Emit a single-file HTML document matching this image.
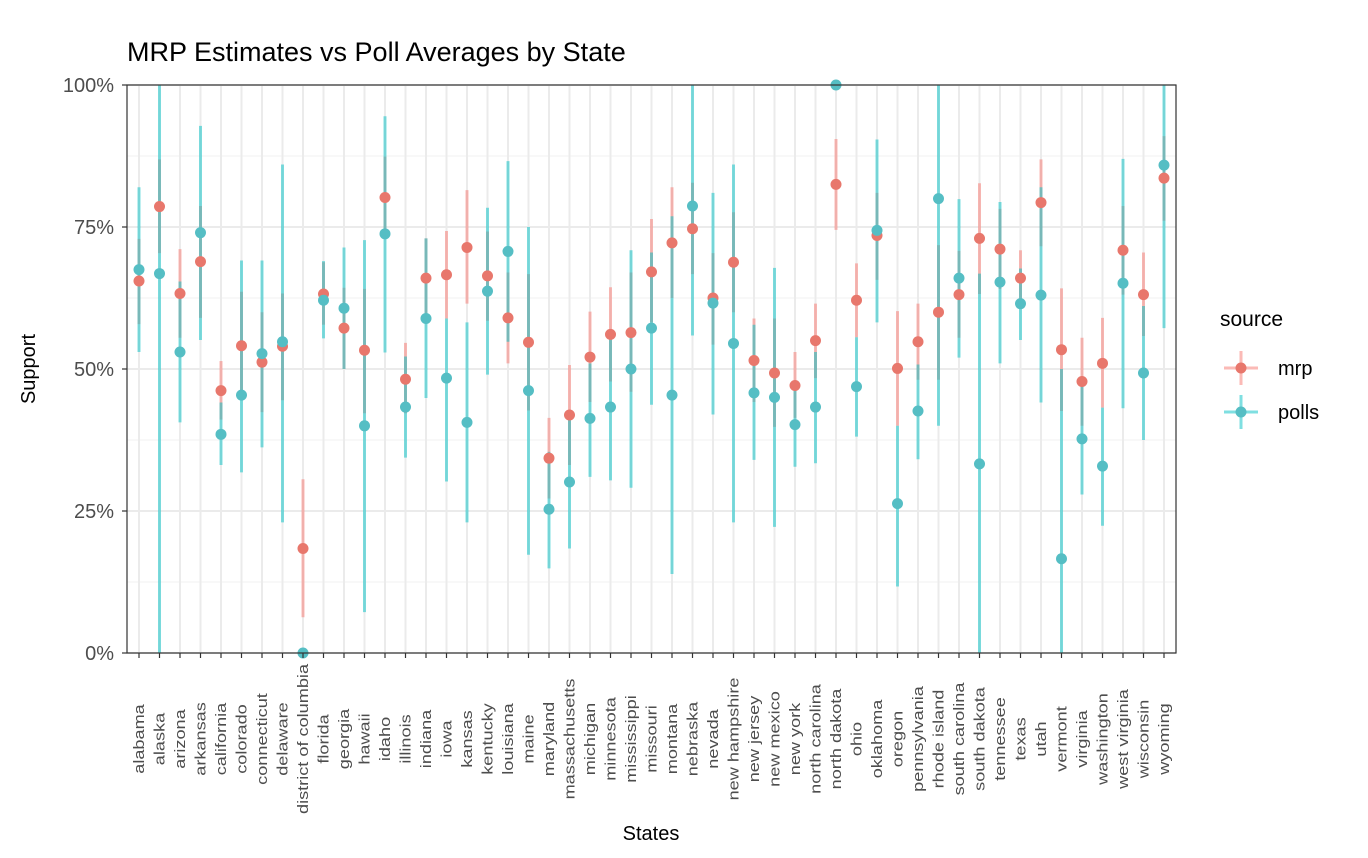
<!DOCTYPE html>
<html><head><meta charset="utf-8"><style>
html,body{margin:0;padding:0;background:#fff;}
svg{display:block;font-family:"Liberation Sans",Arial,sans-serif;}
</style></head><body>
<svg id="chart" width="1368" height="858"></svg>
<script>
const states=["alabama","alaska","arizona","arkansas","california","colorado","connecticut","delaware","district of columbia","florida","georgia","hawaii","idaho","illinois","indiana","iowa","kansas","kentucky","louisiana","maine","maryland","massachusetts","michigan","minnesota","mississippi","missouri","montana","nebraska","nevada","new hampshire","new jersey","new mexico","new york","north carolina","north dakota","ohio","oklahoma","oregon","pennsylvania","rhode island","south carolina","south dakota","tennessee","texas","utah","vermont","virginia","washington","west virginia","wisconsin","wyoming"];
const mrpEst=[65.5,78.6,63.3,68.9,46.2,54.1,51.2,54,18.4,63.2,57.2,53.3,80.2,48.2,66,66.6,71.4,66.4,59,54.7,34.3,41.9,52.1,56.1,56.4,67.1,72.2,74.7,62.5,68.8,51.5,49.3,47.1,55,82.5,62.1,73.5,50.1,54.8,60,63.1,73,71.1,66,79.3,53.4,47.8,51,70.9,63.1,83.6];
const mrpHi=[72.9,86.9,71.1,78.7,51.4,63.6,60,63.3,30.6,68.8,64.3,64.1,87.4,54.6,73,74.3,81.5,74.2,67,66.7,41.4,50.7,60.1,64.4,67,76.4,82,82.8,70.4,77.6,58.9,58.9,53,61.5,90.5,68.6,81,60.2,61.5,71.8,70.8,82.7,78.2,70.9,86.9,64.2,55.5,59,78.7,70.5,91];
const mrpLo=[57.9,70.4,55.5,59,41.1,45,42.4,44.5,6.3,57.8,50,42.2,72.9,42.2,58.9,58.9,61.5,58.5,51,42.7,27.2,33.1,44.2,47.8,46,58.2,62.5,66.7,54.3,60,44.2,39.8,41.4,48.4,74.5,55.6,65.7,40,48.1,48.1,55.5,63.2,64.1,61.5,71.6,42.6,40,43.2,63.1,55.8,76.1];
const pollEst=[67.5,66.8,53,74,38.5,45.4,52.7,54.8,0,62.1,60.7,40,73.8,43.3,58.9,48.4,40.6,63.7,70.7,46.2,25.3,30.1,41.3,43.3,50,57.2,45.4,78.7,61.6,54.5,45.8,45,40.2,43.3,100,46.9,74.4,26.3,42.6,80,66,33.3,65.3,61.5,63,16.6,37.7,32.9,65.1,49.3,85.9];
const pollHi=[82,100,65.4,92.8,44.1,69.1,69.1,86,0,69,71.4,72.7,94.5,52.2,73,58.9,58.2,78.4,86.6,75,35.4,41.9,51,56,70.9,70.5,76.9,100,81,86,57.8,67.8,47.1,53,100,55.6,90.4,40,50.8,100,79.9,66.8,79.4,67.7,82,50,47.1,43.2,87,61.1,100];
const pollLo=[53,0,40.6,55.1,33.1,31.8,36.2,23,0,55.4,50,7.2,52.9,34.4,44.9,30.2,23,49,54.8,17.3,14.9,18.4,31,30.4,29.1,43.7,13.9,55.9,42,23,34,22.2,32.8,33.4,100,38.1,58.2,11.7,34.1,40,52,0,51,55.1,44.1,0,27.9,22.4,43.1,37.5,57.2];
const yTicks=[0,25,50,75,100];

const NS="http://www.w3.org/2000/svg";
const svg=document.getElementById('chart');
const L=127,R=1176,T=85,B=653;
const x0=139,dx=(1164-139)/50;
function xs(i){return x0+i*dx;}
function ys(v){return B-(v/100)*(B-T);}
function mk(tag,attrs,parent){const e=document.createElementNS(NS,tag);for(const k in attrs)e.setAttribute(k,attrs[k]);(parent||svg).appendChild(e);return e;}

const grid=mk('g',{});


[12.5,37.5,62.5,87.5].forEach(v=>{mk('line',{x1:L,x2:R,y1:ys(v),y2:ys(v),stroke:'#f2f2f2','stroke-width':1},grid);});
yTicks.forEach(v=>{mk('line',{x1:L,x2:R,y1:ys(v),y2:ys(v),stroke:'#ebebeb','stroke-width':2},grid);});
states.forEach((s,i)=>{mk('line',{x1:xs(i),x2:xs(i),y1:T,y2:B,stroke:'#ebebeb','stroke-width':2},grid);});

const mrpCol='#F8766D',polCol='#00BFC4';
const series=mk('g',{});


states.forEach((s,i)=>{
  const x=xs(i);
  const a=mk('line',{x1:x,x2:x,y1:ys(mrpHi[i]),y2:ys(mrpLo[i]),stroke:mrpCol,'stroke-width':3,'stroke-opacity':0.5},series);
  
  
  const b=mk('line',{x1:x,x2:x,y1:ys(pollHi[i]),y2:ys(pollLo[i]),stroke:polCol,'stroke-width':3,'stroke-opacity':0.5},series);
  
  
});
states.forEach((s,i)=>{
  const x=xs(i);
  const c=mk('circle',{cx:x,cy:ys(mrpEst[i]),r:5.5,fill:'#E8776C'},series);
  
  
  const d=mk('circle',{cx:x,cy:ys(pollEst[i]),r:5.5,fill:'#55BEC4'},series);
  
  
});

const border=mk('rect',{x:L,y:T,width:R-L,height:B-T,fill:'none',stroke:'#333','stroke-width':1.2});



yTicks.forEach(v=>{
  mk('line',{x1:L-5,x2:L,y1:ys(v),y2:ys(v),stroke:'#333','stroke-width':1.2});
  const t=mk('text',{x:L-13,y:ys(v)+7,'text-anchor':'end','font-size':20,fill:'#4d4d4d'});
  t.textContent=v+'%';
  
  
});
states.forEach((s,i)=>{
  const x=xs(i);
  mk('line',{x1:x,x2:x,y1:B,y2:B+5,stroke:'#333','stroke-width':1.2});
  const t=mk('text',{x:0,y:0,'text-anchor':'middle','font-size':14.5,fill:'#4d4d4d',transform:`translate(${x+5},739) rotate(-90) scale(1.25,1)`});
  t.textContent=s;
  
  
});
</script>
<div style="position:absolute;left:0;top:0;width:1368px;height:858px;pointer-events:none;">
<svg width="1368" height="858" style="position:absolute;left:0;top:0;">
<text x="127" y="61" font-size="27" fill="#000" font-family="Liberation Sans, sans-serif">MRP Estimates vs Poll Averages by State</text>
<text x="0" y="0" font-size="20" fill="#000" text-anchor="middle" transform="translate(35,369) rotate(-90)" font-family="Liberation Sans, sans-serif">Support</text>
<text x="651" y="840" font-size="20" fill="#000" text-anchor="middle" font-family="Liberation Sans, sans-serif">States</text>
<g font-family="Liberation Sans, sans-serif">
<text x="1220" y="326" font-size="21" fill="#000">source</text>
<g>
<line x1="1241" x2="1241" y1="351" y2="385" stroke="#F8766D" stroke-width="3" stroke-opacity="0.5"/>
<line x1="1224" x2="1258" y1="368" y2="368" stroke="#F8766D" stroke-width="3" stroke-opacity="0.5"/>
<circle cx="1241" cy="368" r="5.5" fill="#E8776C"/>
<text x="1278" y="375" font-size="20" fill="#000">mrp</text>
</g>
<g>
<line x1="1241" x2="1241" y1="395" y2="429" stroke="#00BFC4" stroke-width="3" stroke-opacity="0.5"/>
<line x1="1224" x2="1258" y1="412" y2="412" stroke="#00BFC4" stroke-width="3" stroke-opacity="0.5"/>
<circle cx="1241" cy="412" r="5.5" fill="#55BEC4"/>
<text x="1278" y="419" font-size="20" fill="#000">polls</text>
</g>
</g>
</svg>
</div>
</body></html>
